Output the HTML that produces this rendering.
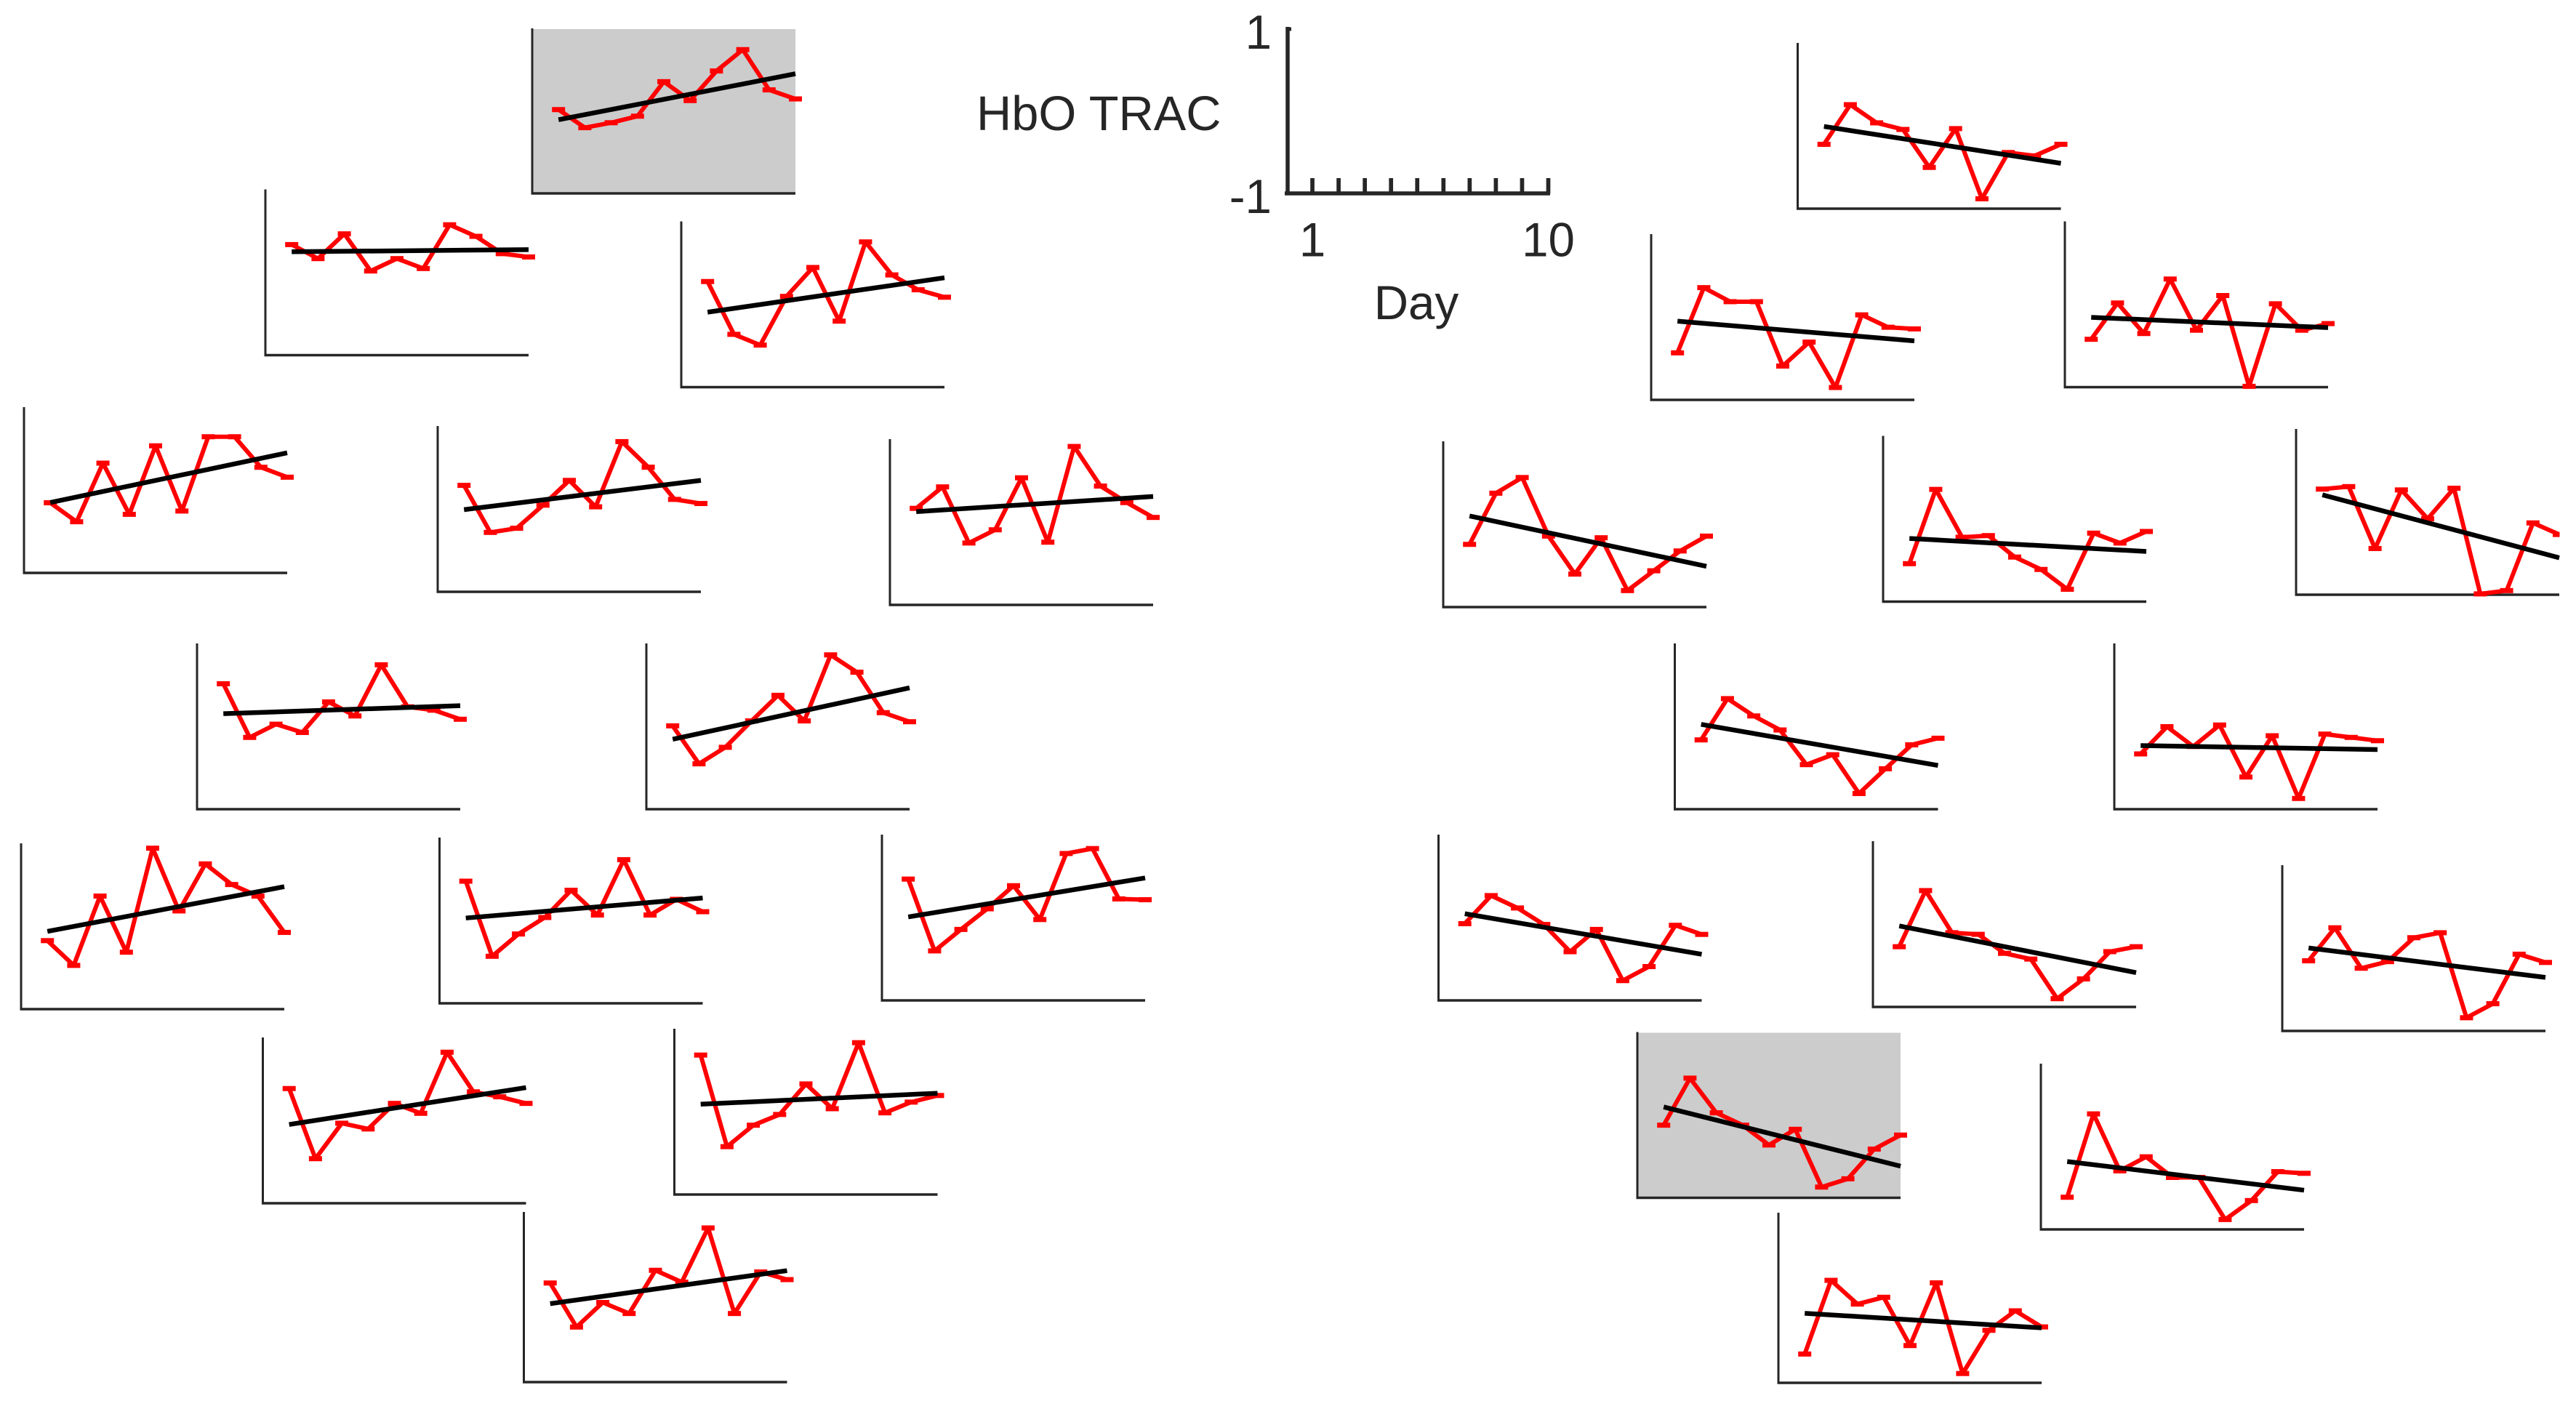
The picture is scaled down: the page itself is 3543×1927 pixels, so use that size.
<!DOCTYPE html>
<html lang="en">
<head>
<meta charset="utf-8">
<title>HbO TRAC by day</title>
<style>
html,body{margin:0;padding:0;background:#fff;}
svg{display:block;}
text{font-family:"Liberation Sans",Arial,sans-serif;font-size:65.5px;fill:#262626;}
</style>
</head>
<body>
<svg id="figure" xmlns="http://www.w3.org/2000/svg" width="3543" height="1927" viewBox="0 0 3543 1927">
<defs><clipPath id="clip-right-edge"><rect x="-30" y="-240" width="392.5" height="260"></rect></clipPath></defs>
<rect width="3543" height="1927" fill="#fff"></rect>

<g class="panel" data-h="226" data-highlight="true" transform="translate(732,266)"></g>
<g class="panel" data-h="227" transform="translate(365,488.5)"></g>
<g class="panel" data-h="227" transform="translate(937,532.5)"></g>
<g class="panel" data-h="227" transform="translate(33,788)"></g>
<g class="panel" data-h="227" transform="translate(602,814)"></g>
<g class="panel" data-h="227" transform="translate(1224,832)"></g>
<g class="panel" data-h="227" transform="translate(271,1113)"></g>
<g class="panel" data-h="227" transform="translate(889,1113)"></g>
<g class="panel" data-h="227" transform="translate(29,1388)"></g>
<g class="panel" data-h="227" transform="translate(604.5,1380)"></g>
<g class="panel" data-h="227" transform="translate(1213,1376)"></g>
<g class="panel" data-h="227" transform="translate(361.5,1655)"></g>
<g class="panel" data-h="227" transform="translate(927.5,1643)"></g>
<g class="panel" data-h="233" transform="translate(720.5,1901)"></g>

<g class="panel" data-h="227" transform="translate(2472.5,287)"></g>
<g class="panel" data-h="227" transform="translate(2271,550)"></g>
<g class="panel" data-h="227" transform="translate(2840,532.5)"></g>
<g class="panel" data-h="227" transform="translate(1985,835)"></g>
<g class="panel" data-h="227" transform="translate(2590,827.5)"></g>
<g class="panel" data-h="227" data-clip="true" transform="translate(3158,818)"></g>
<g class="panel" data-h="227" transform="translate(2303.5,1113)"></g>
<g class="panel" data-h="227" transform="translate(2908,1113)"></g>
<g class="panel" data-h="227" transform="translate(1978.5,1376)"></g>
<g class="panel" data-h="227" transform="translate(2576,1385)"></g>
<g class="panel" data-h="227" transform="translate(3139,1418)"></g>
<g class="panel" data-h="227" data-highlight="true" transform="translate(2252,1647.5)"></g>
<g class="panel" data-h="227" transform="translate(2807,1691)"></g>
<g class="panel" data-h="233" transform="translate(2446,1902)"></g>

<g id="key-axes"></g>
<text x="1343" y="179" style="font-size:66.8px">HbO TRAC</text>
<text x="1948" y="439" text-anchor="middle">Day</text>
</svg>

<script>
const days = [1, 2, 3, 4, 5, 6, 7, 8, 9, 10];
const yTickValues = [1, -1];
const yTickLabels = ['1', '-1'];
const xTickValues = [1, 10];
const xTickLabels = ['1', '10'];

const l01 = [0.02, -0.20, -0.14, -0.06, 0.36, 0.13, 0.49, 0.75, 0.26, 0.15];
const l02 = [0.34, 0.17, 0.47, 0.02, 0.17, 0.05, 0.58, 0.44, 0.23, 0.19];
const l03 = [0.28, -0.36, -0.49, 0.10, 0.45, -0.20, 0.76, 0.36, 0.18, 0.09];
const l04 = [-0.15, -0.38, 0.33, -0.29, 0.54, -0.25, 0.65, 0.65, 0.28, 0.16];
const l05 = [0.29, -0.28, -0.23, 0.05, 0.35, 0.03, 0.82, 0.51, 0.12, 0.07];
const l06 = [0.17, 0.43, -0.25, -0.09, 0.54, -0.24, 0.92, 0.44, 0.24, 0.06];
const l07 = [0.52, -0.13, 0.03, -0.07, 0.30, 0.13, 0.75, 0.24, 0.20, 0.09];
const l08 = [0.01, -0.45, -0.25, 0.07, 0.38, 0.07, 0.87, 0.66, 0.17, 0.06];
const l09 = [-0.17, -0.47, 0.37, -0.31, 0.95, 0.19, 0.76, 0.51, 0.37, -0.07];
const l10 = [0.48, -0.43, -0.16, 0.04, 0.37, 0.07, 0.74, 0.07, 0.26, 0.11];
const l11 = [0.47, -0.40, -0.14, 0.11, 0.39, -0.02, 0.78, 0.84, 0.23, 0.22];
const l12 = [0.39, -0.46, -0.03, -0.10, 0.21, 0.09, 0.83, 0.35, 0.29, 0.21];
const l13 = [0.69, -0.42, -0.16, -0.03, 0.34, 0.04, 0.84, -0.01, 0.12, 0.20];
const l14 = [0.17, -0.35, -0.06, -0.19, 0.32, 0.18, 0.82, -0.19, 0.30, 0.21];

const r01 = [-0.22, 0.26, 0.04, -0.04, -0.50, -0.03, -0.88, -0.32, -0.36, -0.22];
const r02 = [-0.43, 0.36, 0.19, 0.19, -0.59, -0.30, -0.85, 0.03, -0.12, -0.14];
const r03 = [-0.42, 0.02, -0.35, 0.31, -0.31, 0.11, -0.99, 0.01, -0.31, -0.23];
const r04 = [-0.24, 0.38, 0.57, -0.14, -0.60, -0.16, -0.80, -0.56, -0.32, -0.14];
const r05 = [-0.54, 0.36, -0.22, -0.20, -0.46, -0.61, -0.85, -0.17, -0.29, -0.15];
const r06 = [0.28, 0.31, -0.44, 0.27, -0.08, 0.29, -0.99, -0.95, -0.13, -0.27];
const r07 = [-0.16, 0.34, 0.13, -0.04, -0.46, -0.34, -0.81, -0.51, -0.22, -0.14];
const r08 = [-0.33, 0.00, -0.24, 0.02, -0.61, -0.11, -0.87, -0.09, -0.13, -0.17];
const r09 = [-0.07, 0.27, 0.12, -0.08, -0.41, -0.14, -0.76, -0.59, -0.09, -0.20];
const r10 = [-0.27, 0.41, -0.10, -0.12, -0.35, -0.42, -0.90, -0.66, -0.33, -0.27];
const r11 = [-0.15, 0.25, -0.24, -0.16, 0.13, 0.19, -0.84, -0.67, -0.07, -0.17];
const r12 = [-0.12, 0.45, 0.03, -0.12, -0.36, -0.17, -0.87, -0.77, -0.41, -0.24];
const r13 = [-0.61, 0.40, -0.29, -0.12, -0.37, -0.37, -0.88, -0.65, -0.30, -0.32];
const r14 = [-0.66, 0.21, -0.07, 0.01, -0.56, 0.18, -0.89, -0.38, -0.15, -0.34];

const channelSeries = [l01, l02, l03, l04, l05, l06, l07, l08, l09, l10, l11, l12, l13, l14,
                       r01, r02, r03, r04, r05, r06, r07, r08, r09, r10, r11, r12, r13, r14];

const NS = 'http://www.w3.org/2000/svg';
const PANEL_WIDTH = 362;
const AXIS_DARK = '#262626';

function make(tag, attrs) {
  const el = document.createElementNS(NS, tag);
  for (const k in attrs) el.setAttribute(k, attrs[k]);
  return el;
}
function xScale(day) { return day / 10 * PANEL_WIDTH; }
function yScale(value, height) { return -(value + 1) / 2 * height; }
function leastSquares(xs, ys) {
  const n = xs.length;
  const mx = xs.reduce((a, b) => a + b, 0) / n;
  const my = ys.reduce((a, b) => a + b, 0) / n;
  let sxy = 0, sxx = 0;
  xs.forEach((x, i) => { sxy += (x - mx) * (ys[i] - my); sxx += (x - mx) * (x - mx); });
  const slope = sxy / sxx;
  return x => my + slope * (x - mx);
}

document.querySelectorAll('.panel').forEach((panel, index) => {
  const values = channelSeries[index];
  const h = parseFloat(panel.getAttribute('data-h'));

  if (panel.getAttribute('data-highlight') === 'true') {
    const bg = make('rect', { x: 0, y: -h, width: PANEL_WIDTH, height: h, fill: '#cccccc' });
    
    
    panel.appendChild(bg);
  }

  const yAxis = make('line', { x1: 0, y1: -h - 1, x2: 0, y2: 1.5, stroke: AXIS_DARK, 'stroke-width': 3 });
  
  
  panel.appendChild(yAxis);

  const xAxis = make('line', { x1: -1.5, y1: 0, x2: PANEL_WIDTH, y2: 0, stroke: AXIS_DARK, 'stroke-width': 3.6 });
  
  
  panel.appendChild(xAxis);

  const plot = make('g', {});
  
  
  if (panel.getAttribute('data-clip') === 'true') plot.setAttribute('clip-path', 'url(#clip-right-edge)');
  panel.appendChild(plot);

  const pts = days.map((d, i) => xScale(d).toFixed(2) + ',' + yScale(values[i], h).toFixed(2)).join(' ');
  const trace = make('polyline', { points: pts, fill: 'none', stroke: '#ff0000', 'stroke-width': 6, 'stroke-linejoin': 'round' });
  
  
  plot.appendChild(trace);

  days.forEach((d, i) => {
    const marker = make('rect', { x: xScale(d) - 9, y: yScale(values[i], h) - 3.5, width: 18, height: 7, fill: '#ff0000' });
    
    
    plot.appendChild(marker);
  });

  const fit = leastSquares(days, values);
  const first = days[0];
  const last = days[days.length - 1];
  const trend = make('line', { x1: xScale(first), y1: yScale(fit(first), h), x2: xScale(last), y2: yScale(fit(last), h), stroke: '#000000', 'stroke-width': 6.5 });
  
  
  plot.appendChild(trend);
});

const key = document.getElementById('key-axes');
function keyX(day) { return 1769 + day * 36.05; }
function keyY(value) { return 154 - value * 113; }

const keyYAxis = make('line', { x1: 1771, y1: 37, x2: 1771, y2: 268, stroke: AXIS_DARK, 'stroke-width': 5.5 });


key.appendChild(keyYAxis);

const keyXAxis = make('line', { x1: 1767, y1: 266, x2: 2132, y2: 266, stroke: AXIS_DARK, 'stroke-width': 5.5 });


key.appendChild(keyXAxis);

days.forEach(d => {
  const tick = make('line', { x1: keyX(d), y1: 245, x2: keyX(d), y2: 266, stroke: AXIS_DARK, 'stroke-width': 5.7 });
  
  
  key.appendChild(tick);
});

const keyTopTick = make('line', { x1: 1771, y1: keyY(1) - 1, x2: 1776, y2: keyY(1) - 1, stroke: AXIS_DARK, 'stroke-width': 5 });


key.appendChild(keyTopTick);

yTickValues.forEach((v, i) => {
  const label = make('text', { x: 1749, y: keyY(v) + 26, 'text-anchor': 'end' });
  label.textContent = yTickLabels[i];
  
  
  key.appendChild(label);
});

xTickValues.forEach((d, i) => {
  const label = make('text', { x: keyX(d), y: 352.7, 'text-anchor': 'middle' });
  label.textContent = xTickLabels[i];
  
  
  key.appendChild(label);
});
</script>
</body>
</html>
